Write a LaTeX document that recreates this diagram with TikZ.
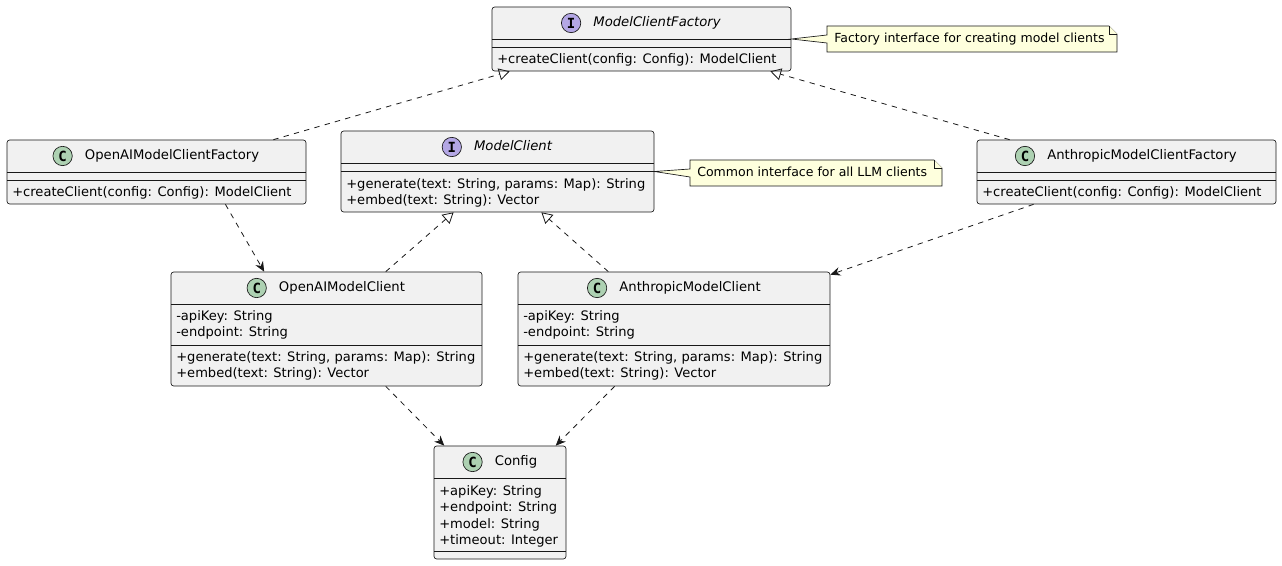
\documentclass[tikz,border=0pt]{standalone}
\usepackage{fontspec}
\setmainfont{DejaVu Sans}
\newfontfamily\iconfont{DejaVu Sans Mono}
\usetikzlibrary{positioning,fit,calc,arrows.meta}

\definecolor{boxfill}{HTML}{F1F1F1}
\definecolor{linec}{HTML}{181818}
\definecolor{notefill}{HTML}{FEFFDD}
\definecolor{classicon}{HTML}{ADD1B2}
\definecolor{ifaceicon}{HTML}{B4A7E5}

\tikzset{
  box/.style={draw=linec, fill=boxfill, line width=0.5pt, rounded corners=2pt, inner sep=0pt},
  sep/.style={draw=linec, line width=0.5pt},
  cname/.style={font=\fontsize{9.9}{12}\selectfont, text height=7.5pt, text depth=2.2pt, inner sep=0pt},
  iname/.style={cname, font=\fontsize{9.9}{12}\selectfont\itshape},
  member/.style={font=\fontsize{9.8}{12}\selectfont, anchor=base west, inner sep=0pt},
  cicon/.style={circle, draw=linec, fill=classicon, line width=0.5pt, minimum size=14.5pt,
    inner sep=0pt, font=\iconfont\bfseries\fontsize{10.5}{10.5}\selectfont},
  iicon/.style={cicon, fill=ifaceicon},
  note/.style={draw=linec, fill=notefill, line width=0.5pt},
  notetext/.style={font=\fontsize{9.4}{11}\selectfont, text height=7pt, text depth=2pt,
    inner sep=0pt, anchor=west},
  realize/.style={draw=linec, line width=0.6pt, dash pattern=on 4pt off 4pt,
    -{Triangle[open, length=8pt, width=9pt]}},
  depend/.style={draw=linec, line width=0.6pt, dash pattern=on 4pt off 4pt,
    -{Stealth[length=7.5pt, width=6.5pt, inset=2.5pt]}},
}

\begin{document}
\begin{tikzpicture}[x=0.75pt, y=-0.75pt]
    \useasboundingbox (0,0) rectangle (1282,566);

    % Factory interface
    \node[box, fit={(492,7) (791,71)}] (mcf) {};
    \draw[sep] (492,39) -- (791,39);
    \draw[sep] (492,47) -- (791,47);
    \node[iname] (mcf-name) at (657,23) {ModelClientFactory};
    \node[iicon, left=9pt of mcf-name] (mcf-icon) {I};
    \node[member] (mcf-m1) at (497,64) {+createClient(config: Config): ModelClient};

    % Concrete factories
    \node[box, fit={(7,140) (306,204)}] (ocf) {};
    \draw[sep] (7,172) -- (306,172);
    \draw[sep] (7,180) -- (306,180);
    \node[cname] (ocf-name) at (172,156) {OpenAIModelClientFactory};
    \node[cicon, left=9pt of ocf-name] (ocf-icon) {C};
    \node[member] (ocf-m1) at (12,197) {+createClient(config: Config): ModelClient};

    \node[box, fit={(977,140) (1276,204)}] (acf) {};
    \draw[sep] (977,172) -- (1276,172);
    \draw[sep] (977,180) -- (1276,180);
    \node[cname] (acf-name) at (1142,156) {AnthropicModelClientFactory};
    \node[cicon, left=9pt of acf-name] (acf-icon) {C};
    \node[member] (acf-m1) at (982,197) {+createClient(config: Config): ModelClient};

    % Client interface
    \node[box, fit={(341,131) (654,212)}] (mc) {};
    \draw[sep] (341,163) -- (654,163);
    \draw[sep] (341,171) -- (654,171);
    \node[iname] (mc-name) at (513,147) {ModelClient};
    \node[iicon, left=9pt of mc-name] (mc-icon) {I};
    \node[member] (mc-m1) at (346,189) {+generate(text: String, params: Map): String};
    \node[member] (mc-m2) at (346,205) {+embed(text: String): Vector};

    % Concrete clients
    \node[box, fit={(171,272) (482,386)}] (omc) {};
    \draw[sep] (171,304) -- (482,304);
    \draw[sep] (171,345) -- (482,345);
    \node[cname] (omc-name) at (342,288) {OpenAIModelClient};
    \node[cicon, left=9pt of omc-name] (omc-icon) {C};
    \node[member] (omc-a1) at (176,321) {-apiKey: String};
    \node[member] (omc-a2) at (176,337) {-endpoint: String};
    \node[member] (omc-m1) at (176,362) {+generate(text: String, params: Map): String};
    \node[member] (omc-m2) at (176,378) {+embed(text: String): Vector};

    \node[box, fit={(518,272) (830,386)}] (amc) {};
    \draw[sep] (518,304) -- (830,304);
    \draw[sep] (518,345) -- (830,345);
    \node[cname] (amc-name) at (690,288) {AnthropicModelClient};
    \node[cicon, left=9pt of amc-name] (amc-icon) {C};
    \node[member] (amc-a1) at (523,321) {-apiKey: String};
    \node[member] (amc-a2) at (523,337) {-endpoint: String};
    \node[member] (amc-m1) at (523,362) {+generate(text: String, params: Map): String};
    \node[member] (amc-m2) at (523,378) {+embed(text: String): Vector};

    % Config
    \node[box, fit={(434,446) (566,559)}] (cfg) {};
    \draw[sep] (434,478) -- (566,478);
    \draw[sep] (434,551) -- (566,551);
    \node[cname] (cfg-name) at (516,462) {Config};
    \node[cicon, left=9pt of cfg-name] (cfg-icon) {C};
    \node[member] (cfg-a1) at (439,496) {+apiKey: String};
    \node[member] (cfg-a2) at (439,512) {+endpoint: String};
    \node[member] (cfg-a3) at (439,528) {+model: String};
    \node[member] (cfg-a4) at (439,544) {+timeout: Integer};

    % Notes
    \draw[note] (827,26) -- (1109,26) -- (1117,34) -- (1117,52) -- (827,52)
        -- (827,43) -- (mcf.east) -- (827,35) -- cycle;
    \draw[note] (1109,26) -- (1109,34) -- (1117,34);
    \node[notetext] (note1) at (834,39) {Factory interface for creating model clients};

    \draw[note] (690,160) -- (934,160) -- (942,168) -- (942,186) -- (690,186)
        -- (690,177) -- (mc.east) -- (690,169) -- cycle;
    \draw[note] (934,160) -- (934,168) -- (942,168);
    \node[notetext] (note2) at (697,173) {Common interface for all LLM clients};

    % Realizations
    \draw[realize] ($(ocf.north west)!0.89!(ocf.north east)$) -- ($(mcf.south west)!0.06!(mcf.south east)$);
    \draw[realize] ($(acf.north west)!0.11!(acf.north east)$) -- ($(mcf.south west)!0.93!(mcf.south east)$);
    \draw[realize] ($(omc.north west)!0.69!(omc.north east)$) -- ($(mc.south west)!0.36!(mc.south east)$);
    \draw[realize] ($(amc.north west)!0.29!(amc.north east)$) -- ($(mc.south west)!0.64!(mc.south east)$);

    % Dependencies
    \draw[depend] ($(ocf.south west)!0.73!(ocf.south east)$) -- ($(omc.north west)!0.30!(omc.north east)$);
    \draw[depend] ($(acf.south west)!0.19!(acf.south east)$) -- ($(amc.north east)+(0,3)$);
    \draw[depend] ($(omc.south west)!0.69!(omc.south east)$) -- ($(cfg.north west)!0.08!(cfg.north east)$);
    \draw[depend] ($(amc.south west)!0.31!(amc.south east)$) -- ($(cfg.north west)!0.92!(cfg.north east)$);
\end{tikzpicture}
\end{document}
